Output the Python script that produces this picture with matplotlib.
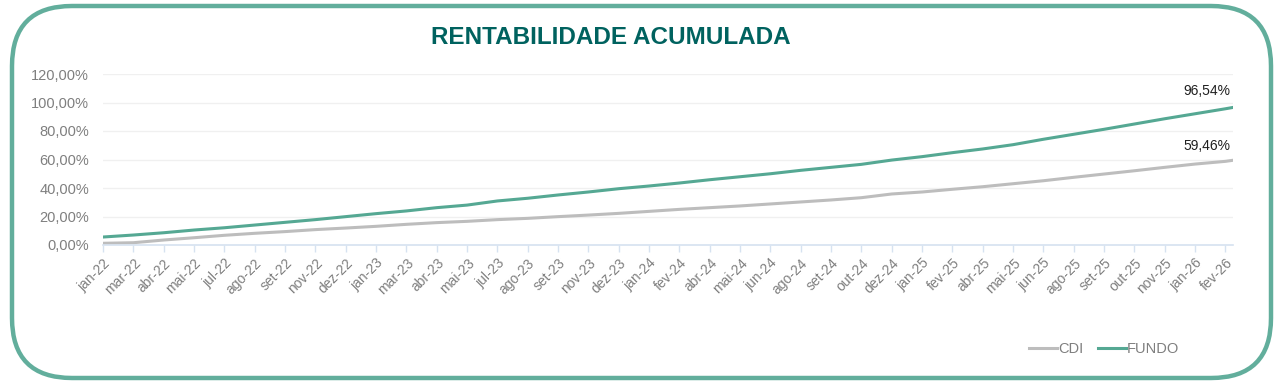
import numpy as np
import matplotlib
matplotlib.use('Agg')
import matplotlib.pyplot as plt
from matplotlib.patches import FancyBboxPatch
from matplotlib.lines import Line2D

plt.rcParams['font.family'] = ['Liberation Sans', 'DejaVu Sans']

# category labels (one every few trading days)
labels = ['jan-22', 'mar-22', 'abr-22', 'mai-22', 'jul-22', 'ago-22', 'set-22', 'nov-22', 'dez-22',
          'jan-23', 'mar-23', 'abr-23', 'mai-23', 'jul-23', 'ago-23', 'set-23', 'nov-23', 'dez-23',
          'jan-24', 'fev-24', 'abr-24', 'mai-24', 'jun-24', 'ago-24', 'set-24', 'out-24', 'dez-24',
          'jan-25', 'fev-25', 'abr-25', 'mai-25', 'jun-25', 'ago-25', 'set-25', 'out-25', 'nov-25',
          'jan-26', 'fev-26']

# accumulated return (%) read at each label, plus the last point
fundo = [5.6, 7.0, 8.6, 10.5, 12.1, 14.0, 15.9, 17.8, 19.9,
         22.0, 23.9, 26.2, 28.0, 30.9, 32.8, 35.1, 37.2, 39.5,
         41.4, 43.5, 45.8, 47.9, 50.0, 52.4, 54.5, 56.6, 59.6,
         62.0, 64.8, 67.4, 70.4, 74.2, 77.7, 81.2, 84.9, 88.6,
         92.1, 95.6, 96.54]
cdi = [1.2, 1.6, 3.5, 5.1, 6.8, 8.2, 9.4, 10.8, 11.9,
       13.1, 14.5, 15.7, 16.6, 17.8, 18.7, 19.9, 21.0, 22.2,
       23.6, 25.0, 26.2, 27.4, 28.8, 30.2, 31.6, 33.2, 35.8,
       37.2, 39.1, 40.9, 43.0, 45.1, 47.5, 49.8, 52.1, 54.5,
       56.8, 58.7, 59.46]
last_offset = 0.25  # last day sits a bit after the final label

x = np.append(np.arange(len(labels)), len(labels) - 1 + last_offset)

teal = '#55A893'
gray_line = '#BDBDBD'
txt_gray = '#7F7F7F'

fig = plt.figure(figsize=(12.84, 3.84), dpi=100)

# rounded frame
bg = fig.add_axes([0, 0, 1, 1])
bg.set_xlim(0, 1284)
bg.set_ylim(384, 0)
bg.axis('off')
bg.add_patch(FancyBboxPatch((12, 6), 1259, 372, boxstyle='round,pad=0,rounding_size=60',
                            fc='white', ec='#62AE9C', lw=3.2))

fig.text(611 / 1284, 1 - 38 / 384, 'RENTABILIDADE ACUMULADA', ha='center', va='center',
         fontsize=17.5, fontweight='bold', color='#00625F')

ax = fig.add_axes([103 / 1284, 1 - 245 / 384, 1130 / 1284, 171 / 384])
ax.plot(x, cdi, color=gray_line, lw=2.2, label='CDI')
ax.plot(x, fundo, color=teal, lw=2.2, label='FUNDO')

ax.set_xlim(0, x[-1])
ax.set_ylim(0, 120)
ax.set_yticks(np.arange(0, 121, 20))
ax.set_yticklabels([f'{v:.2f}%'.replace('.', ',') for v in np.arange(0, 121, 20)])
ax.set_xticks(np.arange(len(labels)))
ax.set_xticklabels(labels, rotation=45, ha='right', va='top', rotation_mode='anchor')
ax.tick_params(axis='y', length=0, pad=10, labelsize=10.5, labelcolor=txt_gray)
ax.tick_params(axis='x', length=5, color='#D6E2F0', width=1, pad=3, labelsize=10,
               labelcolor=txt_gray)
ax.grid(axis='y', color='#F0F0F0', lw=1)
ax.set_axisbelow(True)
for s in ['top', 'right', 'left']:
    ax.spines[s].set_visible(False)
ax.spines['bottom'].set_color('#D6E2F0')
ax.spines['bottom'].set_linewidth(1.2)

ax.annotate(f'{fundo[-1]:.2f}%'.replace('.', ','), (x[-1], fundo[-1]), xytext=(-2, 7),
            textcoords='offset points', ha='right', va='bottom', fontsize=10, color='#1F1F1F')
ax.annotate(f'{cdi[-1]:.2f}%'.replace('.', ','), (x[-1], cdi[-1]), xytext=(-2, 5),
            textcoords='offset points', ha='right', va='bottom', fontsize=10, color='#1F1F1F')

handles = [Line2D([], [], color=gray_line, lw=2.2), Line2D([], [], color=teal, lw=2.2)]
fig.legend(handles, ['CDI', 'FUNDO'], loc='center', bbox_to_anchor=(1104 / 1284, 1 - 349 / 384),
           ncol=2, frameon=False, fontsize=10.5, labelcolor=txt_gray, handlelength=1.9,
           handletextpad=0.1, columnspacing=1.0)

fig.savefig('out.png', dpi=100)
